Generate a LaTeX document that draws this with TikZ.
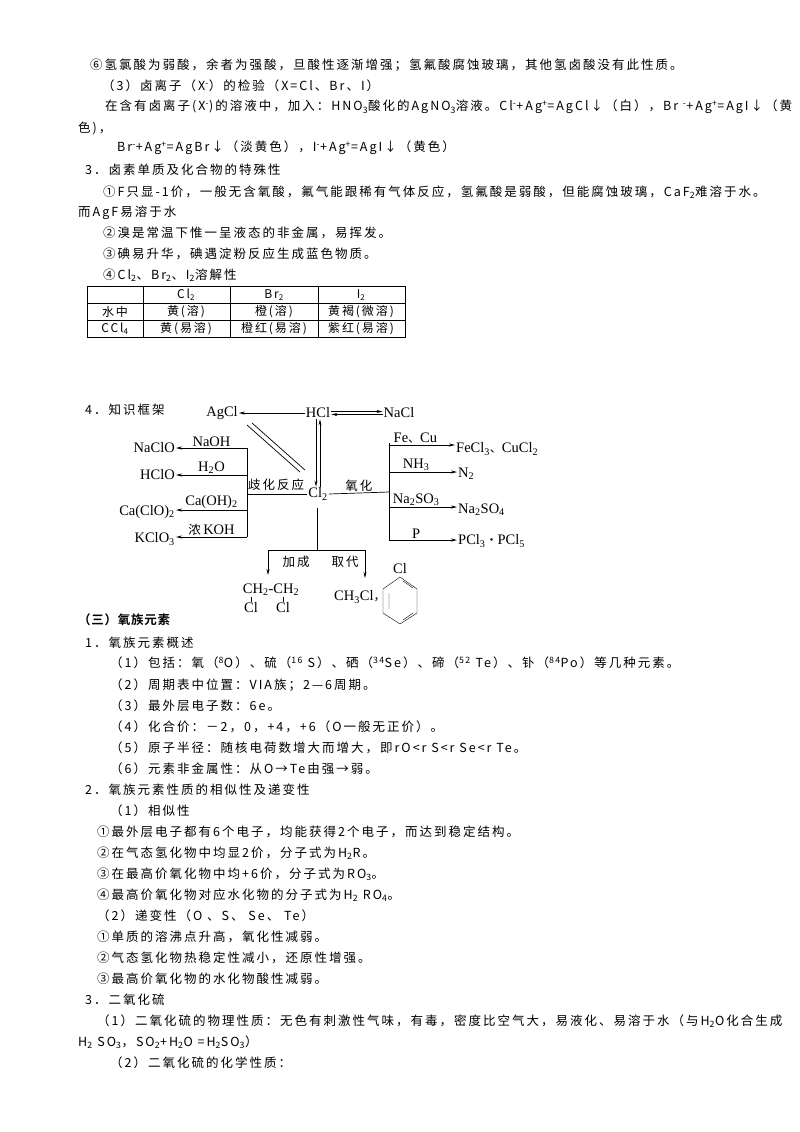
\documentclass[tikz,border=0pt]{standalone}
\usepackage{fontspec}
\setmainfont{Liberation Serif}
\newfontfamily\cjk[LetterSpace=16]{Noto Sans CJK SC}
\newfontfamily\cjkb[LetterSpace=6]{Noto Sans CJK SC Bold}
\newcommand{\mysub}[1]{\textsubscript{#1}}
\newcommand{\mysup}[1]{\textsuperscript{#1}}
\usetikzlibrary{arrows.meta}
\begin{document}
\begin{tikzpicture}[x=1pt,y=-1pt,
  tl/.style={anchor=west,inner sep=0pt,font=\cjk\fontsize{12.5}{14}\selectfont},
  ch/.style={inner sep=1pt,font=\fontsize{14.5}{16}\selectfont},
  lb/.style={inner sep=1pt,font=\fontsize{14.5}{16}\selectfont},
  ar/.style={-{Stealth[length=6pt,width=3pt]},line width=0.7pt},
  ln/.style={line width=0.7pt}]
\useasboundingbox[fill=white] (0,0) rectangle (800,1132);
% top text
\node[tl] (t1) at (90,65) {⑥氢氯酸为弱酸，余者为强酸，旦酸性逐渐增强；氢氟酸腐蚀玻璃，其他氢卤酸没有此性质。};
\node[tl] (t2) at (102,86) {（3）卤离子（X\mysup{-}）的检验（X=Cl、Br、I）};
\node[tl] (t3) at (105,107) {在含有卤离子(X\mysup{-})的溶液中，加入：HNO\mysub{3}酸化的AgNO\mysub{3}溶液。Cl\mysup{-}+Ag\mysup{+}=AgCl↓（白），Br \mysup{-}+Ag\mysup{+}=AgI↓（黄};
\node[tl] (t4) at (78,128) {色)，};
\node[tl] (t5) at (117,148) {Br\mysup{-}+Ag\mysup{+}=AgBr↓（淡黄色），I\mysup{-}+Ag\mysup{+}=AgI↓（黄色）};
\node[tl] (t6) at (85,170) {3．卤素单质及化合物的特殊性};
\node[tl] (t7) at (103,192) {①F只显-1价，一般无含氧酸，氟气能跟稀有气体反应，氢氟酸是弱酸，但能腐蚀玻璃，CaF\mysub{2}难溶于水。};
\node[tl] (t8) at (78,213) {而AgF易溶于水};
\node[tl] (t9) at (103,233) {②溴是常温下惟一呈液态的非金属，易挥发。};
\node[tl] (t10) at (103,254) {③碘易升华，碘遇淀粉反应生成蓝色物质。};
\node[tl] (t11) at (103,275) {④Cl\mysub{2}、Br\mysub{2}、I\mysub{2}溶解性};
% table
\draw[line width=0.8pt] (87,286) rectangle (405,337);
\draw (87,303) -- (405,303) (87,320) -- (405,320);
\draw (143,286) -- (143,337) (230,286) -- (230,337) (318,286) -- (318,337);
\begin{scope}[every node/.style={inner sep=0pt,font=\cjk\fontsize{12}{13}\selectfont}]
\node (c12) at (186,295) {Cl\mysub{2}};
\node (c13) at (274,295) {Br\mysub{2}};
\node (c14) at (361,295) {I\mysub{2}};
\node (c21) at (115,312) {水中};
\node (c22) at (186,312) {黄(溶)};
\node (c23) at (274,312) {橙(溶)};
\node (c24) at (361,312) {黄褐(微溶)};
\node (c31) at (115,329) {CCl\mysub{4}};
\node (c32) at (186,329) {黄(易溶)};
\node (c33) at (274,329) {橙红(易溶)};
\node (c34) at (361,329) {紫红(易溶)};
\end{scope}
% diagram
\node[tl] (t12) at (85,410) {4．知识框架};
\node[ch] (agcl) at (222,413) {AgCl};
\node[ch] (hcl) at (318,413) {HCl};
\node[ch] (nacl) at (399,413) {NaCl};
\node[ch] (cl2) at (318,494) {Cl\mysub{2}};
\draw[ar] (hcl.west) -- (agcl.east);
\draw[ar] ([yshift=1.5pt]hcl.east) -- ([yshift=1.5pt]nacl.west);
\draw[ar] ([yshift=-1.5pt]nacl.west) -- ([yshift=-1.5pt]hcl.east);
\draw[ar] ([xshift=-2pt]hcl.south) -- ([xshift=-2pt]cl2.north);
\draw[ar] ([xshift=2pt]cl2.north) -- ([xshift=2pt]hcl.south);
\draw[ln] (247,425) -- (300,472) (252,423) -- (305,470);
% left
\coordinate (lj) at (247,494);
\draw[ln] (cl2.west) -- (lj);
\node[lb,font=\cjk\fontsize{12.5}{14}\selectfont,anchor=south] (qh) at (276,492) {歧化反应};
\draw[ln] (247,448) -- (247,537);
\node[ch,anchor=east] (naclo) at (176,448) {NaClO};
\node[ch,anchor=east] (hclo) at (176,475) {HClO};
\node[ch,anchor=east] (caclo) at (176,512) {Ca(ClO)\mysub{2}};
\node[ch,anchor=east] (kclo) at (176,539) {KClO\mysub{3}};
\coordinate (l1) at (247,448); \coordinate (l2) at (247,475);
\coordinate (l3) at (247,510); \coordinate (l4) at (247,537);
\draw[ar] (l1) -- (naclo.east |- l1) node[midway,above,lb] {NaOH};
\draw[ar] (l2) -- (hclo.east |- l2) node[midway,above,lb] {H\mysub{2}O};
\draw[ar] (l3) -- (caclo.east |- l3) node[midway,above,lb] {Ca(OH)\mysub{2}};
\draw[ar] (l4) -- (kclo.east |- l4) node[midway,above,lb] {{\cjk\fontsize{12.5}{14}\selectfont 浓}\,KOH};
% right
\coordinate (rj) at (389,492);
\draw[ln] (cl2.east) -- (rj) node[midway,above,lb,font=\cjk\fontsize{12.5}{14}\selectfont] {氧化};
\draw[ln] (389,443) -- (389,540);
\node[ch,anchor=west] (fecl) at (455,449) {FeCl\mysub{3}{\cjk\fontsize{12}{14}\selectfont 、}CuCl\mysub{2}};
\node[ch,anchor=west] (n2) at (457,474) {N\mysub{2}};
\node[ch,anchor=west] (na2so4) at (457,510) {Na\mysub{2}SO\mysub{4}};
\node[ch,anchor=west] (pcl) at (457,541) {PCl\mysub{3}{\cjk\fontsize{12}{14}\selectfont ·}PCl\mysub{5}};
\coordinate (r1) at (389,445); \coordinate (r2) at (389,472);
\coordinate (r3) at (389,507); \coordinate (r4) at (389,540);
\draw[ar] (r1) -- (fecl.west |- r1) node[pos=0.4,above,lb] {Fe{\cjk\fontsize{12}{14}\selectfont 、}Cu};
\draw[ar] (r2) -- (n2.west |- r2) node[pos=0.4,above,lb] {NH\mysub{3}};
\draw[ar] (r3) -- (na2so4.west |- r3) node[pos=0.4,above,lb] {Na\mysub{2}SO\mysub{3}};
\draw[ar] (r4) -- (pcl.west |- r4) node[pos=0.4,above,lb] {P};
% down
\coordinate (dj) at (317,550);
\draw[ln] (317,508) -- (dj);
\draw[ln] (268,550) -- (365,550);
\node[ch] (ch2) at (271,590) {CH\mysub{2}-CH\mysub{2}};
\node[ch] (cl1) at (251,608) {Cl};
\node[ch] (cl1b) at (283,608) {Cl};
\draw (251,597) -- (251,602) (283,597) -- (283,602);
\node[ch,anchor=west] (ch3cl) at (333,597) {CH\mysub{3}Cl{\cjk\fontsize{12}{14}\selectfont ，}};
\draw[ar] (268,550) -- (268,575);
\draw[ar] (365,550) -- (365,578);
\node[lb,font=\cjk\fontsize{12.5}{14}\selectfont] (jc) at (296,562) {加成};
\node[lb,font=\cjk\fontsize{12.5}{14}\selectfont] (qd) at (345,562) {取代};
\node[ch] (bcl) at (400,569) {Cl};
\draw (400,577) -- (417,589) -- (417,613) -- (400,624) -- (383,613) -- (383,589) -- cycle;
\draw (389,593) -- (389,609) (403,581) -- (413,588) (403,620) -- (413,613);
% lower text
\node[tl,font=\cjkb\fontsize{12.5}{14}\selectfont] (s0) at (78,620) {（三）氧族元素};
\node[tl] (s1) at (85,643) {1．氧族元素概述};
\node[tl] (s2) at (110,663) {（1）包括：氧（\mysup{8}O）、硫（\mysup{16} S）、硒（\mysup{34}Se）、碲（\mysup{52} Te）、钋（\mysup{84}Po）等几种元素。};
\node[tl] (s3) at (110,685) {（2）周期表中位置：VIA族；2—6周期。};
\node[tl] (s4) at (110,706) {（3）最外层电子数：6e。};
\node[tl] (s5) at (110,727) {（4）化合价：－2，0，+4，+6（O一般无正价）。};
\node[tl] (s6) at (110,748) {（5）原子半径：随核电荷数增大而增大，即rO<r S<r Se<r Te。};
\node[tl] (s7) at (110,769) {（6）元素非金属性：从O→Te由强→弱。};
\node[tl] (s8) at (85,790) {2．氧族元素性质的相似性及递变性};
\node[tl] (s9) at (110,811) {（1）相似性};
\node[tl] (s10) at (97,832) {①最外层电子都有6个电子，均能获得2个电子，而达到稳定结构。};
\node[tl] (s11) at (97,853) {②在气态氢化物中均显2价，分子式为H\mysub{2}R。};
\node[tl] (s12) at (97,874) {③在最高价氧化物中均+6价，分子式为RO\mysub{3}。};
\node[tl] (s13) at (97,895) {④最高价氧化物对应水化物的分子式为H\mysub{2} RO\mysub{4}。};
\node[tl] (s14) at (97,916) {（2）递变性（O 、S、 Se、 Te）};
\node[tl] (s15) at (97,937) {①单质的溶沸点升高，氧化性减弱。};
\node[tl] (s16) at (97,958) {②气态氢化物热稳定性减小，还原性增强。};
\node[tl] (s17) at (97,979) {③最高价氧化物的水化物酸性减弱。};
\node[tl] (s18) at (85,1000) {3．二氧化硫};
\node[tl] (s19) at (97,1021) {（1）二氧化硫的物理性质：无色有刺激性气味，有毒，密度比空气大，易液化、易溶于水（与H\mysub{2}O化合生成};
\node[tl] (s20) at (78,1042) {H\mysub{2} SO\mysub{3}，SO\mysub{2}+H\mysub{2}O =H\mysub{2}SO\mysub{3}）};
\node[tl] (s21) at (110,1063) {（2）二氧化硫的化学性质：};
\end{tikzpicture}
\end{document}
